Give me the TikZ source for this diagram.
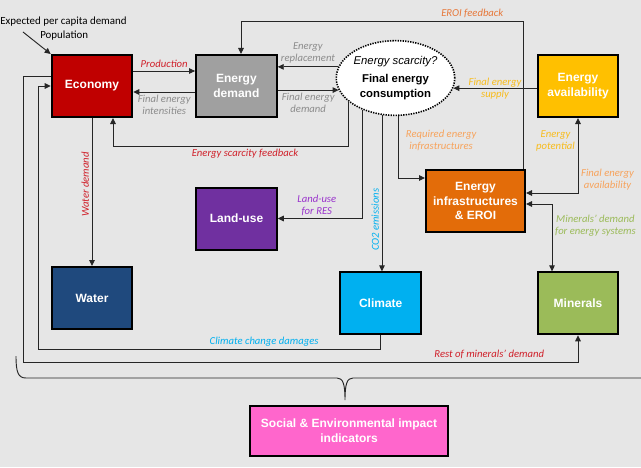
\documentclass[tikz,border=0pt]{standalone}
\usepackage{fontspec}
\setmainfont{Carlito}
\newfontfamily\boxfont{Liberation Sans}
\usetikzlibrary{arrows.meta,positioning,shapes.geometric}

\definecolor{bgGray}{HTML}{E6E6E6}
\definecolor{ecoRed}{HTML}{C00000}
\definecolor{demGray}{HTML}{A0A0A0}
\definecolor{availYellow}{HTML}{FFC000}
\definecolor{infraOrange}{HTML}{E36C09}
\definecolor{landPurple}{HTML}{7030A0}
\definecolor{waterBlue}{HTML}{1F497D}
\definecolor{climBlue}{HTML}{00B0F0}
\definecolor{minGreen}{HTML}{9BBB59}
\definecolor{socPink}{HTML}{FF66CC}
\definecolor{lblRed}{HTML}{D0202A}
\definecolor{lblGray}{HTML}{8C8C8C}
\definecolor{lblOrange}{HTML}{E6783A}
\definecolor{lblLtOrange}{HTML}{F7A35C}
\definecolor{lblYellow}{HTML}{F8BC1C}
\definecolor{lblPurple}{HTML}{9933CC}

\begin{document}
\begin{tikzpicture}[x=0.75pt,y=-0.75pt,>={Triangle[length=4.5pt,width=4.2pt]},
  box/.style={draw=black,line width=1.5pt,minimum width=60.5pt,minimum height=46.5pt,
    inner sep=2pt,align=center,text=white,font=\boxfont\bfseries\fontsize{9}{11}\selectfont},
  lbl/.style={font=\itshape\fontsize{8}{9}\selectfont,align=center,inner sep=2pt},
  link/.style={->,draw=black!85,line width=0.7pt}]

  \useasboundingbox (0,0) rectangle (641,467);
  \fill[bgGray] (0,0) rectangle (641,467);

  % sub-models
  \node[box,fill=ecoRed] (eco) at (92,86) {Economy};
  \node[box,fill=demGray] (dem) [right=46.3pt of eco] {Energy\\demand};
  \node[ellipse,draw=black,fill=white,dash pattern=on 1pt off 0.9pt,line width=1.2pt,
    minimum width=79pt,minimum height=56pt,inner sep=0pt,align=center,
    font=\boxfont\fontsize{8.5}{11}\selectfont] (cons) at (395.5,78)
    {\textit{Energy scarcity?}\\[3pt]\textbf{Final energy}\\\textbf{consumption}};
  \node[box,fill=availYellow] (avail) at (578,86) {Energy\\availability};
  \node[box,fill=infraOrange,minimum width=74.25pt] (infra) at (475.5,201) {Energy\\infrastructures\\\& EROI};
  \node[box,fill=landPurple] (land) at (236.5,218.5) {Land-use};
  \node[box,fill=waterBlue] (water) [below=111pt of eco] {Water};
  \node[box,fill=minGreen] (min) [below=115pt of avail] {Minerals};
  \node[box,fill=climBlue] (clim) [left=86pt of min] {Climate};
  \node[box,fill=socPink,minimum width=148.5pt,minimum height=37.5pt] (soc) at (349,431)
    {Social \& Environmental impact\\indicators};

  % drivers
  \node[font=\fontsize{8.2}{10}\selectfont,anchor=west,inner sep=0pt] (exp) at (0,22) {Expected per capita demand};
  \node[font=\fontsize{8.2}{10}\selectfont,anchor=west,inner sep=0pt] (pop) at (40,36) {Population};
  \coordinate (drv) at (23,32);
  \draw[link] (drv) -- (eco.north west);

  \path[every node/.style={lbl}]
    (eco.east |- 0,71) edge[link] node[above,text=lblRed] {Production} (dem.west |- 0,71)
    (dem.west |- 0,92) edge[link] node[below,text=lblGray] {Final energy\\intensities} (eco.east |- 0,92)
    (cons.169) edge[link] node[above,text=lblGray] {Energy\\replacement} (dem.east |- cons.169)
    (dem.east |- cons.192) edge[link] node[below,text=lblGray] {Final energy\\demand} (cons.192)
    (avail.west |- cons.350) edge[link] node[text=lblYellow] {Final energy\\supply} (cons.350)
    (eco.south) edge[link] node[pos=.45,rotate=90,anchor=south,text=lblRed] {Water demand} (water.north)
    (cons.250) edge[link] node[pos=.67,rotate=90,anchor=south,text=climBlue] {CO2 emissions} (cons.250 |- clim.north);

  % feedbacks
  \draw[link] (cons.207) |- node[lbl,pos=.72,below,text=lblRed] {Energy scarcity feedback} (113,146)
    -- (eco.south -| 113,0);
  \draw[link] (infra.north -| 523,0) |- node[lbl,pos=.59,above,text=lblOrange] {EROI feedback} (241,21)
    -- (dem.north -| 241,0);
  \draw[link] (cons.224) |- node[lbl,pos=.77,above,text=lblPurple] {Land-use\\for RES} (land.east);
  \draw[link] (cons.275) |- node[lbl,pos=.2,right=3pt,text=lblLtOrange] {Required energy\\infrastructures}
    ([yshift=17.25pt]infra.west);
  \draw[link,<->] (avail.south) |- node[lbl,pos=.15,left,text=lblYellow] {Energy\\potential}
    node[lbl,pos=.41,right,text=lblLtOrange] {Final energy\\availability} ([yshift=6pt]infra.east);
  \draw[link,<->] ([yshift=-2.25pt]infra.east) -| node[lbl,pos=.66,right=0pt,text=minGreen]
    {Minerals' demand\\for energy systems} ([xshift=-19.5pt]min.north);
  \draw[link] ([yshift=7.5pt]eco.west) -| (23,362)
    -| node[lbl,pos=.42,above,text=lblRed] {Rest of minerals' demand} (min.south);
  \draw[link] (clim.south) |- node[lbl,pos=.67,above,text=climBlue] {Climate change damages} (38,349)
    |- (eco.west);

  % brace to indicators
  \draw[black!85,line width=0.7pt] (16,356) .. controls (16,372) and (18,378) .. (26,378) -- (337,378)
    .. controls (343,378) and (345,384) .. (345,400)
    .. controls (345,384) and (347,378) .. (353,378) -- (660,378);

\end{tikzpicture}
\end{document}
